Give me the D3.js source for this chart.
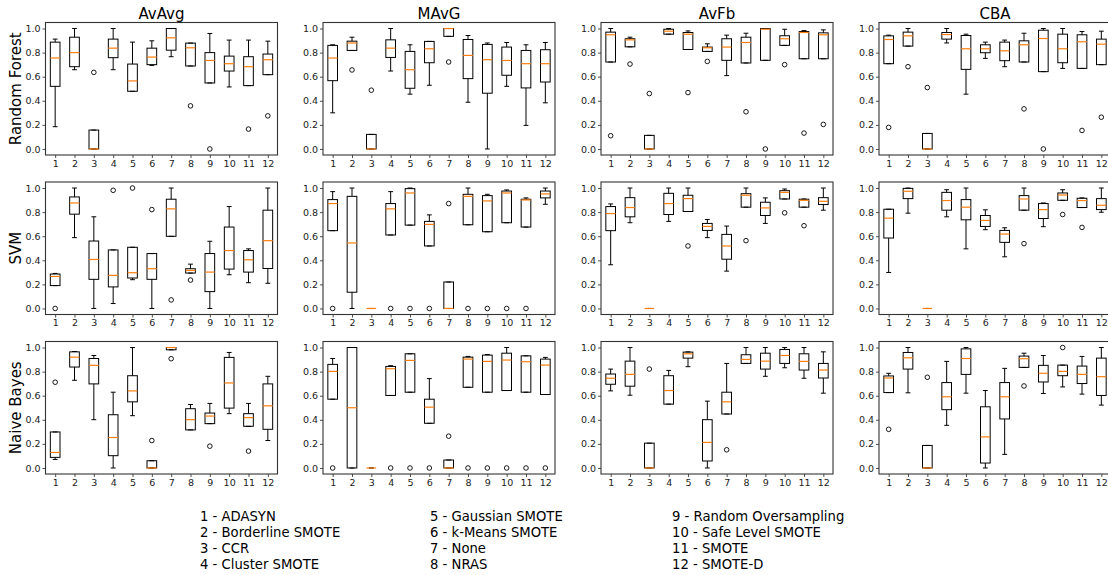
<!DOCTYPE html>
<html>
<head>
<meta charset="utf-8">
<script src="https://cdn.jsdelivr.net/npm/d3@7"></script>
<style>
  body { margin: 0; background: #fff; }
  svg { display: block; font-family: "DejaVu Sans", sans-serif; }
</style>
</head>
<body>
<div id="chart"></div>
<script>
let classifiers = ["Random Forest", "SVM", "Naive Bayes"];
let metrics = ["AvAvg", "MAvG", "AvFb", "CBA"];
let methods = ["ADASYN", "Borderline SMOTE", "CCR", "Cluster SMOTE", "Gaussian SMOTE", "k-Means SMOTE",
               "None", "NRAS", "Random Oversampling", "Safe Level SMOTE", "SMOTE", "SMOTE-D"];
let yTicks = [0, 0.2, 0.4, 0.6, 0.8, 1.0];
let xTicks = [1, 2, 3, 4, 5, 6, 7, 8, 9, 10, 11, 12];

// each box: [whisker low, q1, median, q3, whisker high, [outliers]]
let rfAvAvg = [
    [0.185, 0.52, 0.755, 0.887, 0.912, []],
    [0.658, 0.683, 0.80, 0.928, 1.0, []],
    [0, 0, 0, 0.157, 0.157, [0.636]],
    [0.658, 0.758, 0.837, 0.912, 1.0, []],
    [0.479, 0.479, 0.565, 0.705, 0.887, []],
    [0.694, 0.70, 0.763, 0.837, 0.898, []],
    [0.766, 0.82, 0.923, 1.0, 1.0, []],
    [0.689, 0.689, 0.84, 0.879, 0.879, [0.358]],
    [0.548, 0.548, 0.735, 0.80, 0.959, [0]],
    [0.515, 0.647, 0.708, 0.771, 0.904, []],
    [0.526, 0.526, 0.683, 0.766, 0.904, [0.165]],
    [0.617, 0.617, 0.741, 0.788, 0.895, [0.275]]
];
let rfMAvG = [
    [0.30, 0.567, 0.755, 0.86, 0.865, []],
    [0.818, 0.818, 0.88, 0.895, 0.928, [0.656]],
    [0, 0, 0, 0.121, 0.121, [0.488]],
    [0.647, 0.76, 0.837, 0.906, 1.0, []],
    [0.455, 0.504, 0.658, 0.81, 0.865, []],
    [0.529, 0.716, 0.832, 0.893, 0.893, []],
    [0.935, 0.935, 1.0, 1.0, 1.0, [0.722]],
    [0.388, 0.584, 0.777, 0.909, 0.942, []],
    [0, 0.463, 0.741, 0.868, 0.88, []],
    [0.52, 0.612, 0.735, 0.846, 0.884, []],
    [0.196, 0.507, 0.708, 0.818, 0.865, []],
    [0.383, 0.556, 0.708, 0.824, 0.884, []]
];
let rfAvFb = [
    [0.722, 0.722, 0.948, 0.97, 1.0, [0.11]],
    [0.848, 0.848, 0.906, 0.915, 0.928, [0.705]],
    [0, 0, 0, 0.113, 0.113, [0.46]],
    [0.953, 0.953, 0.978, 0.994, 1.0, []],
    [0.826, 0.826, 0.953, 0.967, 0.98, [0.468]],
    [0.81, 0.81, 0.84, 0.846, 0.873, [0.727]],
    [0.609, 0.736, 0.846, 0.915, 0.945, []],
    [0.714, 0.714, 0.884, 0.928, 0.961, [0.309]],
    [0.736, 0.736, 0.994, 1.0, 1.0, [0]],
    [0.86, 0.86, 0.915, 0.94, 0.994, [0.70]],
    [0.749, 0.749, 0.967, 0.975, 0.983, [0.132]],
    [0.749, 0.749, 0.948, 0.964, 0.989, [0.204]]
];
let rfCBA = [
    [0.708, 0.708, 0.909, 0.939, 0.945, [0.179]],
    [0.854, 0.854, 0.939, 0.97, 1.0, [0.683]],
    [0, 0, 0, 0.129, 0.129, [0.51]],
    [0.88, 0.912, 0.95, 0.967, 1.0, []],
    [0.455, 0.661, 0.832, 0.942, 0.953, []],
    [0.752, 0.799, 0.832, 0.865, 0.887, []],
    [0.683, 0.733, 0.815, 0.887, 0.904, []],
    [0.722, 0.722, 0.865, 0.898, 0.961, [0.333]],
    [0.642, 0.642, 0.917, 0.986, 1.0, [0]],
    [0.669, 0.716, 0.832, 0.953, 1.0, []],
    [0.669, 0.669, 0.89, 0.948, 0.975, [0.154]],
    [0.70, 0.70, 0.87, 0.912, 0.978, [0.264]]
];
let svmAvAvg = [
    [0.19, 0.19, 0.266, 0.286, 0.291, [0]],
    [0.588, 0.783, 0.876, 0.926, 1.0, []],
    [0, 0.242, 0.407, 0.56, 0.761, []],
    [0.041, 0.179, 0.275, 0.486, 0.486, [0.981]],
    [0.239, 0.253, 0.297, 0.508, 0.508, [1.0]],
    [0, 0.242, 0.33, 0.456, 0.456, [0.821]],
    [0.599, 0.599, 0.827, 0.907, 1.0, [0.071]],
    [0.294, 0.294, 0.316, 0.33, 0.368, [0.236]],
    [0, 0.14, 0.302, 0.456, 0.558, []],
    [0.28, 0.327, 0.481, 0.676, 0.846, []],
    [0.214, 0.302, 0.404, 0.481, 0.495, []],
    [0.209, 0.332, 0.563, 0.816, 1.0, []]
];
let svmMAvG = [
    [0.646, 0.646, 0.871, 0.904, 0.97, [0]],
    [0, 0.135, 0.544, 0.931, 1.0, []],
    [0, 0, 0, 0, 0, []],
    [0.61, 0.61, 0.827, 0.871, 0.97, [0]],
    [0.692, 0.692, 0.959, 0.995, 1.0, [0]],
    [0.519, 0.519, 0.698, 0.723, 0.777, [0]],
    [0, 0, 0, 0.22, 0.22, [0.871]],
    [0.695, 0.695, 0.931, 0.948, 1.0, [0]],
    [0.637, 0.637, 0.893, 0.937, 0.948, [0]],
    [0.712, 0.712, 0.959, 0.975, 0.984, [0]],
    [0.676, 0.676, 0.901, 0.907, 0.918, [0]],
    [0.865, 0.918, 0.951, 0.975, 1.0, []]
];
let svmAvFb = [
    [0.363, 0.646, 0.788, 0.846, 0.868, []],
    [0.712, 0.761, 0.838, 0.92, 1.0, []],
    [0, 0, 0, 0, 0, []],
    [0.723, 0.78, 0.871, 0.956, 1.0, []],
    [0.805, 0.805, 0.912, 0.94, 1.0, [0.519]],
    [0.588, 0.648, 0.681, 0.706, 0.739, []],
    [0.31, 0.409, 0.519, 0.615, 0.684, []],
    [0.841, 0.841, 0.94, 0.953, 1.0, [0.563]],
    [0.706, 0.772, 0.835, 0.882, 0.918, []],
    [0.909, 0.909, 0.964, 0.978, 0.992, [0.794]],
    [0.841, 0.841, 0.898, 0.907, 0.909, [0.687]],
    [0.816, 0.863, 0.89, 0.92, 1.0, []]
];
let svmCBA = [
    [0.299, 0.585, 0.75, 0.824, 0.824, []],
    [0.791, 0.912, 0.973, 0.997, 1.0, []],
    [0, 0, 0, 0, 0, []],
    [0.761, 0.816, 0.896, 0.964, 0.986, []],
    [0.495, 0.736, 0.841, 0.904, 1.0, []],
    [0.654, 0.681, 0.731, 0.772, 0.819, []],
    [0.429, 0.549, 0.618, 0.648, 0.67, []],
    [0.816, 0.816, 0.909, 0.937, 1.0, [0.538]],
    [0.679, 0.747, 0.821, 0.871, 0.876, []],
    [0.898, 0.898, 0.942, 0.959, 0.986, [0.78]],
    [0.838, 0.838, 0.896, 0.915, 0.918, [0.673]],
    [0.799, 0.821, 0.857, 0.912, 1.0, []]
];
let nbAvAvg = [
    [0.071, 0.088, 0.129, 0.299, 0.299, [0.712]],
    [0.728, 0.838, 0.92, 0.964, 0.967, []],
    [0.401, 0.698, 0.852, 0.909, 0.934, []],
    [0, 0.102, 0.253, 0.442, 0.629, []],
    [0.434, 0.549, 0.64, 0.766, 1.0, []],
    [0, 0, 0, 0.06, 0.06, [0.228]],
    [0.981, 0.981, 1.0, 1.0, 1.0, [0.907]],
    [0.316, 0.316, 0.401, 0.492, 0.527, []],
    [0.368, 0.368, 0.431, 0.456, 0.536, [0.181]],
    [0.451, 0.497, 0.706, 0.918, 0.959, []],
    [0.346, 0.346, 0.418, 0.451, 0.536, [0.14]],
    [0.228, 0.321, 0.516, 0.698, 0.761, []]
];
let nbMAvG = [
    [0.571, 0.571, 0.802, 0.86, 0.909, [0]],
    [0, 0, 0.5, 1.0, 1.0, []],
    [0, 0, 0, 0, 0, []],
    [0.602, 0.602, 0.824, 0.843, 0.849, [0]],
    [0.629, 0.629, 0.893, 0.948, 0.948, [0]],
    [0.371, 0.371, 0.505, 0.571, 0.742, [0]],
    [0, 0, 0, 0.066, 0.066, [0.264]],
    [0.67, 0.67, 0.904, 0.92, 0.926, [0]],
    [0.629, 0.629, 0.885, 0.937, 0.942, [0]],
    [0.643, 0.643, 0.896, 0.953, 1.0, [0]],
    [0.629, 0.629, 0.882, 0.931, 0.931, [0]],
    [0.61, 0.61, 0.854, 0.904, 0.918, [0]]
];
let nbAvFb = [
    [0.64, 0.695, 0.745, 0.78, 0.821, []],
    [0.604, 0.679, 0.777, 0.887, 1.0, []],
    [0, 0, 0, 0.206, 0.206, [0.821]],
    [0.53, 0.53, 0.643, 0.766, 0.81, []],
    [0.841, 0.912, 0.948, 0.962, 0.964, []],
    [0, 0.058, 0.212, 0.401, 0.555, []],
    [0.448, 0.448, 0.549, 0.629, 0.868, [0.151]],
    [0.868, 0.868, 0.901, 0.94, 1.0, []],
    [0.761, 0.821, 0.887, 0.953, 1.0, []],
    [0.832, 0.868, 0.934, 0.984, 1.0, []],
    [0.745, 0.813, 0.885, 0.948, 1.0, []],
    [0.621, 0.747, 0.813, 0.868, 0.964, []]
];
let nbCBA = [
    [0.626, 0.626, 0.747, 0.764, 0.786, [0.321]],
    [0.624, 0.821, 0.915, 0.959, 1.0, []],
    [0, 0, 0, 0.187, 0.187, [0.753]],
    [0.354, 0.484, 0.591, 0.709, 0.885, []],
    [0.621, 0.777, 0.909, 0.989, 1.0, []],
    [0, 0.041, 0.258, 0.508, 0.643, []],
    [0.113, 0.407, 0.591, 0.709, 0.827, []],
    [0.835, 0.835, 0.907, 0.929, 0.953, [0.681]],
    [0.618, 0.714, 0.786, 0.852, 0.934, []],
    [0.673, 0.766, 0.802, 0.854, 0.854, [1.0]],
    [0.613, 0.701, 0.777, 0.846, 0.926, []],
    [0.522, 0.602, 0.758, 0.912, 1.0, []]
];

let panels = [
    [rfAvAvg, rfMAvG, rfAvFb, rfCBA],
    [svmAvAvg, svmMAvG, svmAvFb, svmCBA],
    [nbAvAvg, nbMAvG, nbAvFb, nbCBA]
];

var W = 1108, H = 575;
var pw = 232, ph = 132.5;
var lefts = [45.5, 323, 601, 879];
var tops = [22.5, 182, 341.5];

var svg = d3.select("#chart").append("svg")
    .attr("width", W).attr("height", H);

var x = d3.scaleLinear().domain([0.5, 12.5]).range([0, pw]);
var y = d3.scaleLinear().domain([-0.05, 1.05]).range([ph, 0]);
var bw = x(1.25) - x(1);   // half box width
var cw = bw / 2;           // half cap width

panels.forEach(function(row, r) {
    row.forEach(function(data, c) {
        var g = svg.append("g")
            .attr("transform", "translate(" + lefts[c] + "," + tops[r] + ")");

        var ya = g.append("g").call(d3.axisLeft(y).tickValues(yTicks)
            .tickFormat(d3.format(".1f")).tickSize(3).tickPadding(2));
        var xa = g.append("g").attr("transform", "translate(0," + ph + ")")
            .call(d3.axisBottom(x).tickValues(xTicks).tickSize(3).tickPadding(2));
        [ya, xa].forEach(function(a) {
            a.select(".domain").remove();
            a.selectAll("text").style("font-size", "9.5px").style("font-family", "DejaVu Sans").attr("fill", "#222");
            a.selectAll("line").attr("stroke", "#222").attr("stroke-width", 0.8);
        });

        var b = g.selectAll(".box").data(data).enter().append("g");
        // whiskers
        b.append("line")
            .attr("x1", function(d, i) { return x(i + 1); })
            .attr("x2", function(d, i) { return x(i + 1); })
            .attr("y1", function(d) { return y(d[0]); })
            .attr("y2", function(d) { return y(d[1]); })
            .attr("stroke", "#000").attr("stroke-width", 1);
        b.append("line")
            .attr("x1", function(d, i) { return x(i + 1); })
            .attr("x2", function(d, i) { return x(i + 1); })
            .attr("y1", function(d) { return y(d[3]); })
            .attr("y2", function(d) { return y(d[4]); })
            .attr("stroke", "#000").attr("stroke-width", 1);
        // caps
        [0, 4].forEach(function(k) {
            b.append("line")
                .attr("x1", function(d, i) { return x(i + 1) - cw; })
                .attr("x2", function(d, i) { return x(i + 1) + cw; })
                .attr("y1", function(d) { return y(d[k]); })
                .attr("y2", function(d) { return y(d[k]); })
                .attr("stroke", "#000").attr("stroke-width", 1);
        });
        // box
        b.append("rect")
            .attr("x", function(d, i) { return x(i + 1) - bw; })
            .attr("width", bw * 2)
            .attr("y", function(d) { return y(d[3]); })
            .attr("height", function(d) { return y(d[1]) - y(d[3]); })
            .attr("fill", "none").attr("stroke", "#000").attr("stroke-width", 1);
        // median
        b.append("line")
            .attr("x1", function(d, i) { return x(i + 1) - bw; })
            .attr("x2", function(d, i) { return x(i + 1) + bw; })
            .attr("y1", function(d) { return y(d[2]); })
            .attr("y2", function(d) { return y(d[2]); })
            .attr("stroke", "#ff7f0e").attr("stroke-width", 1.2);
        // fliers
        b.each(function(d, i) {
            d3.select(this).selectAll("circle").data(d[5]).enter().append("circle")
                .attr("cx", x(i + 1))
                .attr("cy", function(v) { return y(v); })
                .attr("r", 2.3)
                .attr("fill", "none").attr("stroke", "#000").attr("stroke-width", 0.9);
        });

        // frame
        g.append("rect").attr("width", pw).attr("height", ph)
            .attr("fill", "none").attr("stroke", "#333").attr("stroke-width", 1.1);

        if (r == 0) {
            g.append("text").attr("x", pw / 2).attr("y", -3.5)
                .attr("text-anchor", "middle").style("font-size", "15px")
                .text(metrics[c]);
        }
        if (c == 0) {
            g.append("text")
                .attr("transform", "translate(" + (21 - lefts[0]) + "," + (ph / 2) + ")rotate(-90)")
                .attr("text-anchor", "middle").style("font-size", "15px")
                .text(classifiers[r]);
        }
    });
});

// legend of method numbers
var legX = [200, 430, 672];
var legend = svg.append("g");
methods.forEach(function(m, i) {
    legend.append("text")
        .attr("x", legX[Math.floor(i / 4)])
        .attr("y", 520.5 + (i % 4) * 16)
        .style("font-size", "13.2px")
        .text((i + 1) + " - " + m);
});
</script>
</body>
</html>
